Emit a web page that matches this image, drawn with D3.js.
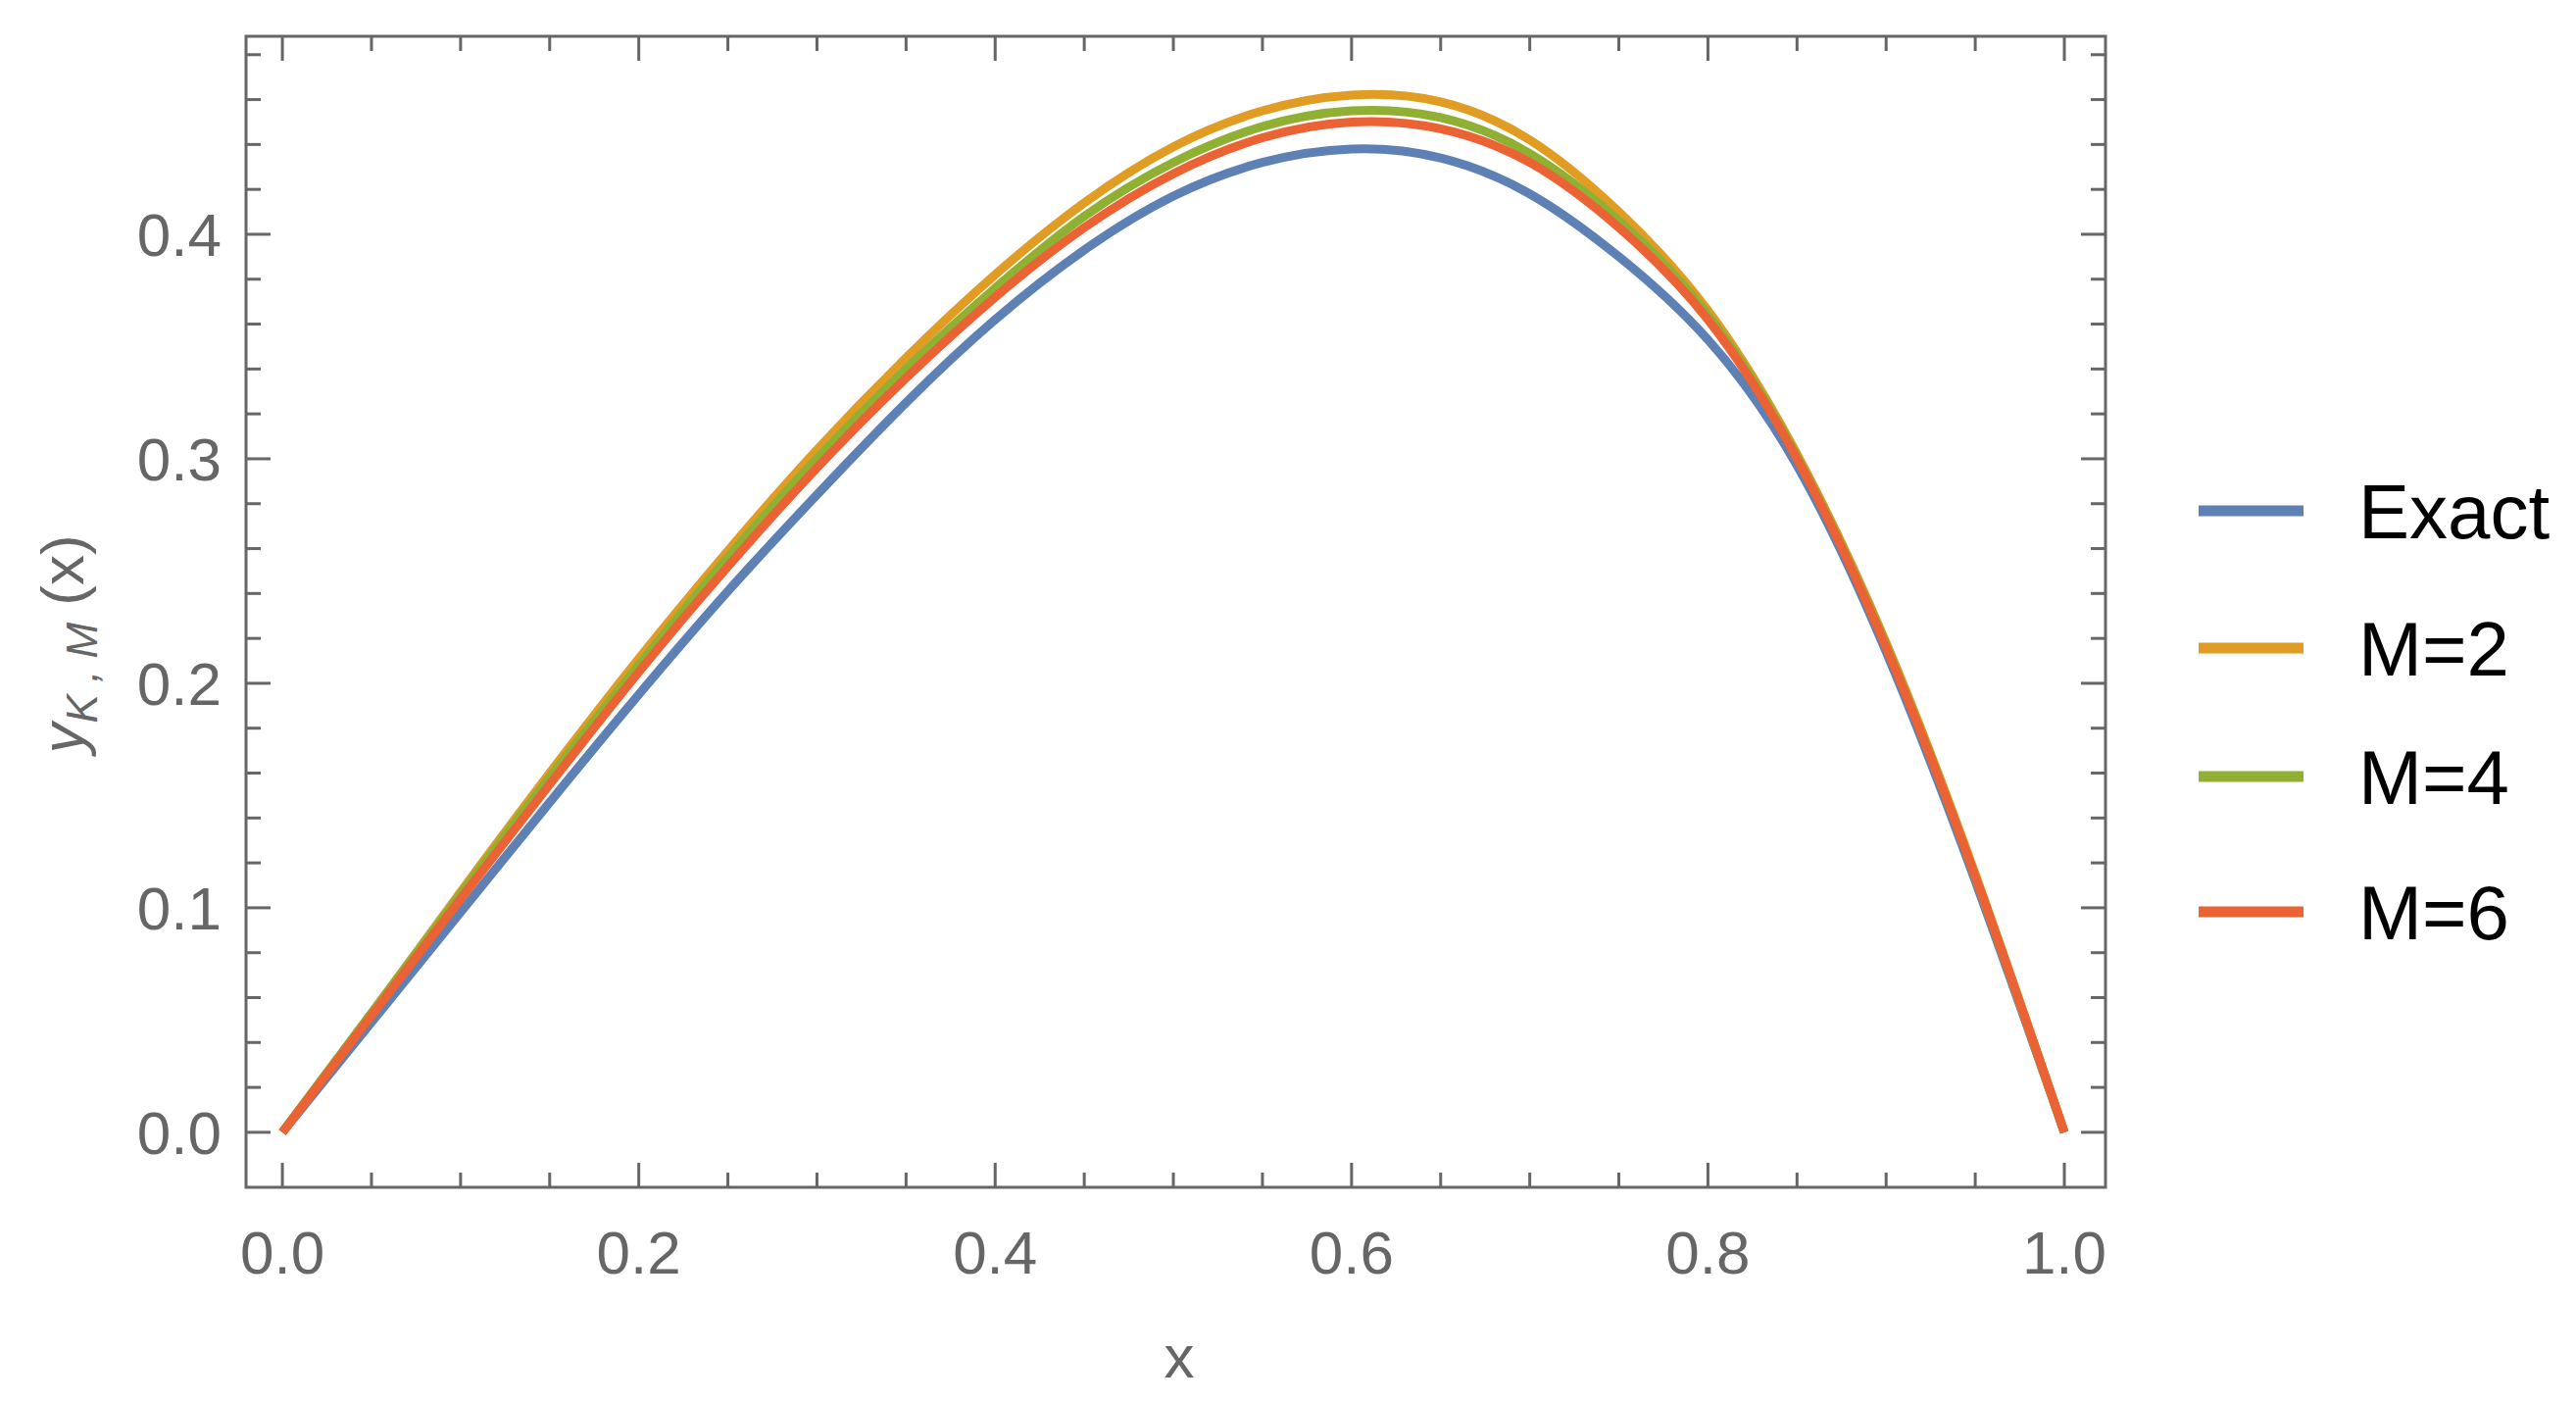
<!DOCTYPE html>
<html><head><meta charset="utf-8">
<script src="https://cdn.jsdelivr.net/npm/d3@7"></script>
<style>body{margin:0;background:#fff}</style>
</head><body><div id="app"></div>
<script>
const xs = [0,0.05,0.1,0.15,0.2,0.25,0.3,0.35,0.4,0.45,0.5,0.55,0.6,0.65,0.7,0.75,0.8,0.85,0.9,0.95,1];
const exact = [0,0.049,0.098,0.147,0.195,0.241,0.284,0.325,0.362,0.393,0.417,0.432,0.438,0.434,0.418,0.39,0.353,0.297,0.214,0.112,0];
const m2 = [0,0.053,0.107,0.16,0.211,0.259,0.304,0.345,0.382,0.414,0.439,0.455,0.462,0.459,0.442,0.41,0.366,0.302,0.218,0.115,0];
const m4 = [0,0.053,0.106,0.158,0.208,0.256,0.3,0.34,0.376,0.408,0.432,0.448,0.455,0.452,0.436,0.406,0.364,0.301,0.217,0.114,0];
const m6 = [0,0.052,0.104,0.155,0.205,0.252,0.296,0.336,0.372,0.403,0.427,0.443,0.45,0.447,0.432,0.403,0.362,0.3,0.216,0.114,0];
const seriesNames = ["Exact","M=2","M=4","M=6"];
const colors = ["#5E81B5","#E19C24","#8FB032","#EB6235"];
const allSeries = [exact, m2, m4, m6];

const W = 2628, H = 1431;
const L = 251, R = 2148, T = 37, B = 1211;
const svg = d3.select("#app").append("svg").attr("width", W).attr("height", H);
const x = d3.scaleLinear().domain([-0.0204, 1.0231]).range([L, R]);
const y = d3.scaleLinear().domain([-0.0245, 0.4882]).range([B, T]);
const gray = "#666";

svg.append("rect").attr("x", L).attr("y", T).attr("width", R - L).attr("height", B - T)
  .attr("fill", "none").attr("stroke", gray).attr("stroke-width", 3);

// ticks on all four sides
const xMinor = d3.range(0, 1.0001, 0.05);
const yMinor = d3.range(0, 0.4801, 0.02);
const isMajorX = v => Math.abs(v * 5 - Math.round(v * 5)) < 1e-6;
const isMajorY = v => Math.abs(v * 10 - Math.round(v * 10)) < 1e-6;
const tk = svg.append("g").attr("stroke", gray).attr("stroke-width", 3);
xMinor.forEach(v => {
  const len = isMajorX(v) ? 25 : 15;
  tk.append("line").attr("x1", x(v)).attr("x2", x(v)).attr("y1", B).attr("y2", B - len);
  tk.append("line").attr("x1", x(v)).attr("x2", x(v)).attr("y1", T).attr("y2", T + len);
});
yMinor.forEach(v => {
  const len = isMajorY(v) ? 25 : 15;
  tk.append("line").attr("y1", y(v)).attr("y2", y(v)).attr("x1", L).attr("x2", L + len);
  tk.append("line").attr("y1", y(v)).attr("y2", y(v)).attr("x1", R).attr("x2", R - len);
});

const font = "'Liberation Sans', Arial, sans-serif";
svg.append("g").selectAll("text").data([0, 0.2, 0.4, 0.6, 0.8, 1.0]).join("text")
  .attr("x", d => x(d)).attr("y", B + 88).attr("text-anchor", "middle")
  .attr("font-family", font).attr("font-size", 62).attr("fill", gray).text(d => d.toFixed(1));
svg.append("g").selectAll("text").data([0, 0.1, 0.2, 0.3, 0.4]).join("text")
  .attr("x", L - 25).attr("y", d => y(d) + 22).attr("text-anchor", "end")
  .attr("font-family", font).attr("font-size", 62).attr("fill", gray).text(d => d.toFixed(1));

svg.append("text").attr("x", 1203).attr("y", 1405).attr("text-anchor", "middle")
  .attr("font-family", font).attr("font-size", 62).attr("fill", gray).text("x");
const yl = svg.append("text").attr("transform", "translate(85,657) rotate(-90)")
  .attr("text-anchor", "middle").attr("font-family", font).attr("font-size", 62).attr("fill", gray);
yl.append("tspan").attr("font-style", "italic").text("y");
yl.append("tspan").attr("font-style", "italic").attr("font-size", 44).attr("dy", 14).text("K , M");
yl.append("tspan").attr("dy", -14).text(" (x)");

const line = d3.line().x((d, i) => x(xs[i])).y(d => y(d)).curve(d3.curveNatural);
svg.append("g").selectAll("path").data(allSeries).join("path")
  .attr("d", d => line(d)).attr("fill", "none")
  .attr("stroke", (d, i) => colors[i]).attr("stroke-width", 9);

const legY = [521, 661, 792, 930];
const leg = svg.append("g");
seriesNames.forEach((n, i) => {
  leg.append("line").attr("x1", 2243).attr("x2", 2350).attr("y1", legY[i]).attr("y2", legY[i])
    .attr("stroke", colors[i]).attr("stroke-width", 11);
  leg.append("text").attr("x", 2406).attr("y", legY[i] + 28).attr("font-family", font)
    .attr("font-size", 78).attr("fill", "#000").text(n);
});
</script></body></html>
